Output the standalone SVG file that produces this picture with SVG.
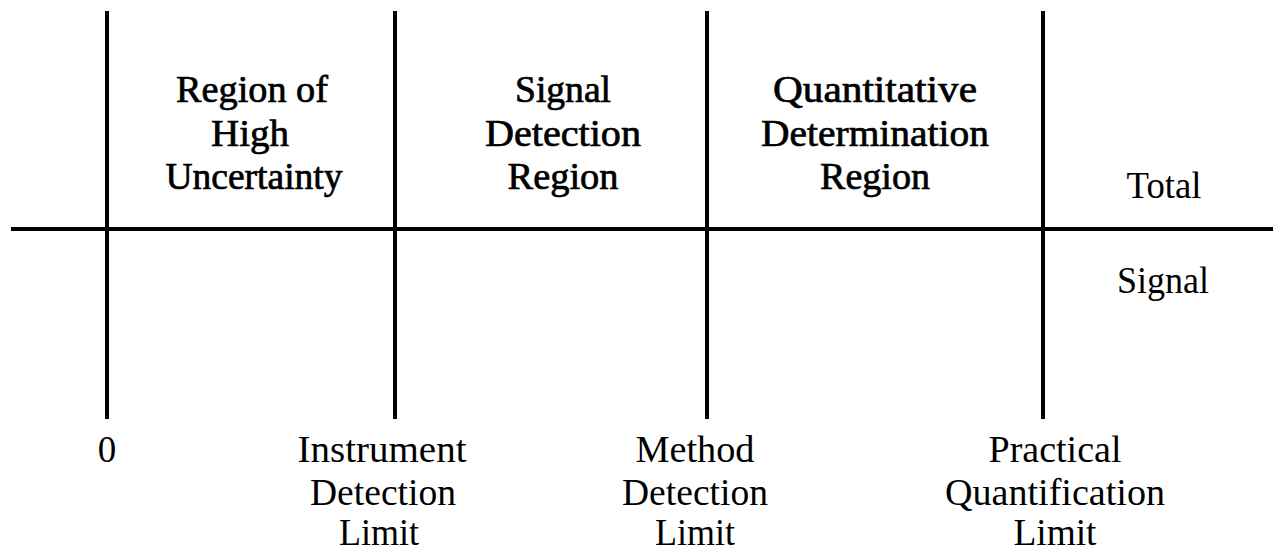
<svg xmlns="http://www.w3.org/2000/svg" width="1273" height="552" viewBox="0 0 1273 552">
<style>
.ln{stroke:#000;stroke-width:4;fill:none}
text{font-family:"Liberation Serif","Times New Roman",serif;font-size:37px;fill:#000;text-anchor:middle}
.hd{stroke:#000;stroke-width:0.7}
</style>
<rect width="1273" height="552" fill="#fff"/>
<g id="connectors">
<line class="ln" x1="11" y1="229" x2="1273" y2="229"/>
<line class="ln" x1="107" y1="11" x2="107" y2="419"/>
<line class="ln" x1="395" y1="11" x2="395" y2="419"/>
<line class="ln" x1="707" y1="11" x2="707" y2="419"/>
<line class="ln" x1="1043" y1="11" x2="1043" y2="419"/>
</g>
<g id="region-high-uncertainty">
<text class="hd" x="252" y="102" textLength="152" lengthAdjust="spacingAndGlyphs">Region of</text>
<text class="hd" x="250" y="146" textLength="78" lengthAdjust="spacingAndGlyphs">High</text>
<text class="hd" x="254" y="189" textLength="177" lengthAdjust="spacingAndGlyphs">Uncertainty</text>
</g>
<g id="signal-detection-region">
<text class="hd" x="563" y="102" textLength="96" lengthAdjust="spacingAndGlyphs">Signal</text>
<text class="hd" x="563" y="146" textLength="156" lengthAdjust="spacingAndGlyphs">Detection</text>
<text class="hd" x="563" y="189" textLength="111" lengthAdjust="spacingAndGlyphs">Region</text>
</g>
<g id="quantitative-determination-region">
<text class="hd" x="875" y="102" textLength="204" lengthAdjust="spacingAndGlyphs">Quantitative</text>
<text class="hd" x="875" y="146" textLength="228" lengthAdjust="spacingAndGlyphs">Determination</text>
<text class="hd" x="875" y="189" textLength="110" lengthAdjust="spacingAndGlyphs">Region</text>
</g>
<g id="total-signal">
<text x="1164" y="198" textLength="75" lengthAdjust="spacingAndGlyphs">Total</text>
<text x="1163" y="293" textLength="92" lengthAdjust="spacingAndGlyphs">Signal</text>
</g>
<g id="zero">
<text x="107" y="462">0</text>
</g>
<g id="instrument-detection-limit">
<text x="382" y="462" textLength="169" lengthAdjust="spacingAndGlyphs">Instrument</text>
<text x="383" y="505" textLength="146" lengthAdjust="spacingAndGlyphs">Detection</text>
<text x="379" y="545" textLength="80" lengthAdjust="spacingAndGlyphs">Limit</text>
</g>
<g id="method-detection-limit">
<text x="695" y="462" textLength="119" lengthAdjust="spacingAndGlyphs">Method</text>
<text x="695" y="505" textLength="146" lengthAdjust="spacingAndGlyphs">Detection</text>
<text x="695" y="545" textLength="80" lengthAdjust="spacingAndGlyphs">Limit</text>
</g>
<g id="practical-quantification-limit">
<text x="1055" y="462" textLength="133" lengthAdjust="spacingAndGlyphs">Practical</text>
<text x="1055" y="505" textLength="220" lengthAdjust="spacingAndGlyphs">Quantification</text>
<text x="1055" y="545" textLength="83" lengthAdjust="spacingAndGlyphs">Limit</text>
</g>
</svg>
